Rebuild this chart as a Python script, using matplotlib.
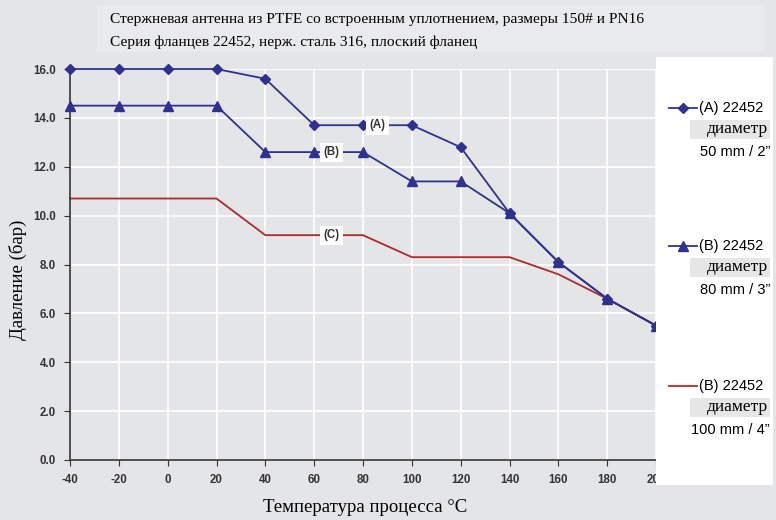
import matplotlib.pyplot as plt
from matplotlib.patches import Rectangle
from matplotlib.lines import Line2D

plt.rcParams['axes.unicode_minus'] = False

# temperature grid, deg C
temp = [-40, -20, 0, 20, 40, 60, 80, 100, 120, 140, 160, 180, 200]

# pressure ratings, bar
p_a = [16.0, 16.0, 16.0, 16.0, 15.6, 13.7, 13.7, 13.7, 12.8, 10.1, 8.1, 6.6, 5.5]
p_b = [14.5, 14.5, 14.5, 14.5, 12.6, 12.6, 12.6, 11.4, 11.4, 10.1, 8.1, 6.6, 5.5]
p_c = [10.7, 10.7, 10.7, 10.7, 9.2, 9.2, 9.2, 8.3, 8.3, 8.3, 7.6, 6.6, 5.5]

legend_names = ['(A) 22452', '(B) 22452', '(B) 22452']
legend_sizes = ['50 mm / 2\u201d', '80 mm / 3\u201d', '100 mm / 4\u201d']
yticks = [0, 2, 4, 6, 8, 10, 12, 14, 16]
xticks = [-40, -20, 0, 20, 40, 60, 80, 100, 120, 140, 160, 180, 200]

blue = '#2e3192'
red = '#b0282e'
bg = '#e4e5e7'
serif = 'Liberation Serif'
sans = 'Liberation Sans'

fig = plt.figure(figsize=(7.76, 5.20), dpi=100)
fig.patch.set_facecolor(bg)
ax = fig.add_axes([70/776, 1 - 460/520, 586/776, 391/520])
ax.set_facecolor(bg)

ax.plot(temp, p_a, color=blue, lw=1.3, marker='D', ms=5.5, clip_on=False, zorder=3)
ax.plot(temp, p_b, color=blue, lw=1.3, marker='^', ms=7.5, clip_on=False, zorder=3)
ax.plot(temp, p_c, color=red, lw=1.3, clip_on=False, zorder=2)

ax.set_xlim(-40, 200)
ax.set_ylim(0, 16)
ax.set_xticks(xticks)
ax.set_yticks(yticks)
ax.set_yticklabels(['%.1f' % v for v in yticks])
ax.grid(True, color='white', lw=1.2)
ax.set_axisbelow(True)
for s in ['top', 'right']:
    ax.spines[s].set_visible(False)
for s in ['left', 'bottom']:
    ax.spines[s].set_color('#333333')
    ax.spines[s].set_linewidth(1.2)
ax.tick_params(direction='out', length=4, color='#333333', pad=6)
for lab in ax.get_xticklabels() + ax.get_yticklabels():
    lab.set_fontfamily(sans)
    lab.set_fontweight('bold')
    lab.set_fontsize(8.3)
    lab.set_color('#333333')

# curve tags
box = dict(boxstyle='square,pad=0.3', fc='white', ec='none')
for txt, x, y in [('(A)', 86, 13.7), ('(B)', 67, 12.6), ('(C)', 67, 9.2)]:
    ax.text(x, y, txt, fontfamily=sans, fontweight='bold', fontsize=8.3,
            color='#333333', ha='center', va='center', bbox=box, zorder=4)

# axis titles
fig.text(365/776, 1 - 508/520, 'Температура процесса °C', fontfamily=serif, fontsize=13.5,
         ha='center', va='center')
fig.text(18/776, 1 - 280/520, 'Давление (бар)', fontfamily=serif, fontsize=13.5,
         ha='center', va='center', rotation=90)

# title block
fig.patches.append(Rectangle((97/776, 1 - 52/520), 668/776, 47/520,
                             transform=fig.transFigure, fc='#e9eaeb', ec='none', zorder=0))
fig.text(110/776, 1 - 20/520, 'Стержневая антенна из PTFE со встроенным уплотнением, размеры 150# и PN16',
         fontfamily=serif, fontsize=11.1, va='center')
fig.text(110/776, 1 - 42/520, 'Серия фланцев 22452, нерж. сталь 316, плоский фланец',
         fontfamily=serif, fontsize=11.1, va='center')

# legend panel
fig.patches.append(Rectangle((656/776, 1 - 485/520), 117/776, 428/520,
                             transform=fig.transFigure, fc='white', ec='none', zorder=5))
styles = [(blue, 'D', 5), (blue, '^', 7), (red, None, 0)]
for i, (name, size) in enumerate(zip(legend_names, legend_sizes)):
    y0 = [108, 246, 386][i]
    col, mk, ms = styles[i]
    fig.add_artist(Line2D([669/776, 697/776], [1 - y0/520] * 2, color=col, lw=1.3, zorder=6))
    if mk:
        fig.add_artist(Line2D([683/776], [1 - y0/520], color=col, marker=mk, ms=ms, zorder=6))
    fig.text(699/776, 1 - y0/520, name, fontfamily=sans, fontsize=10.5, va='center', zorder=7)
    fig.patches.append(Rectangle((690/776, 1 - (y0 + 31)/520), 80/776, 19/520,
                                 transform=fig.transFigure, fc='#e6e6e6', ec='none', zorder=6))
    fig.text(768/776, 1 - (y0 + 21)/520, 'диаметр', fontfamily=serif, fontsize=12.5,
             ha='right', va='center', zorder=7)
    fig.text(770/776, 1 - (y0 + 44)/520, size, fontfamily=sans, fontsize=10.5,
             ha='right', va='center', zorder=7)

fig.savefig('out.png', dpi=100, facecolor=bg)
